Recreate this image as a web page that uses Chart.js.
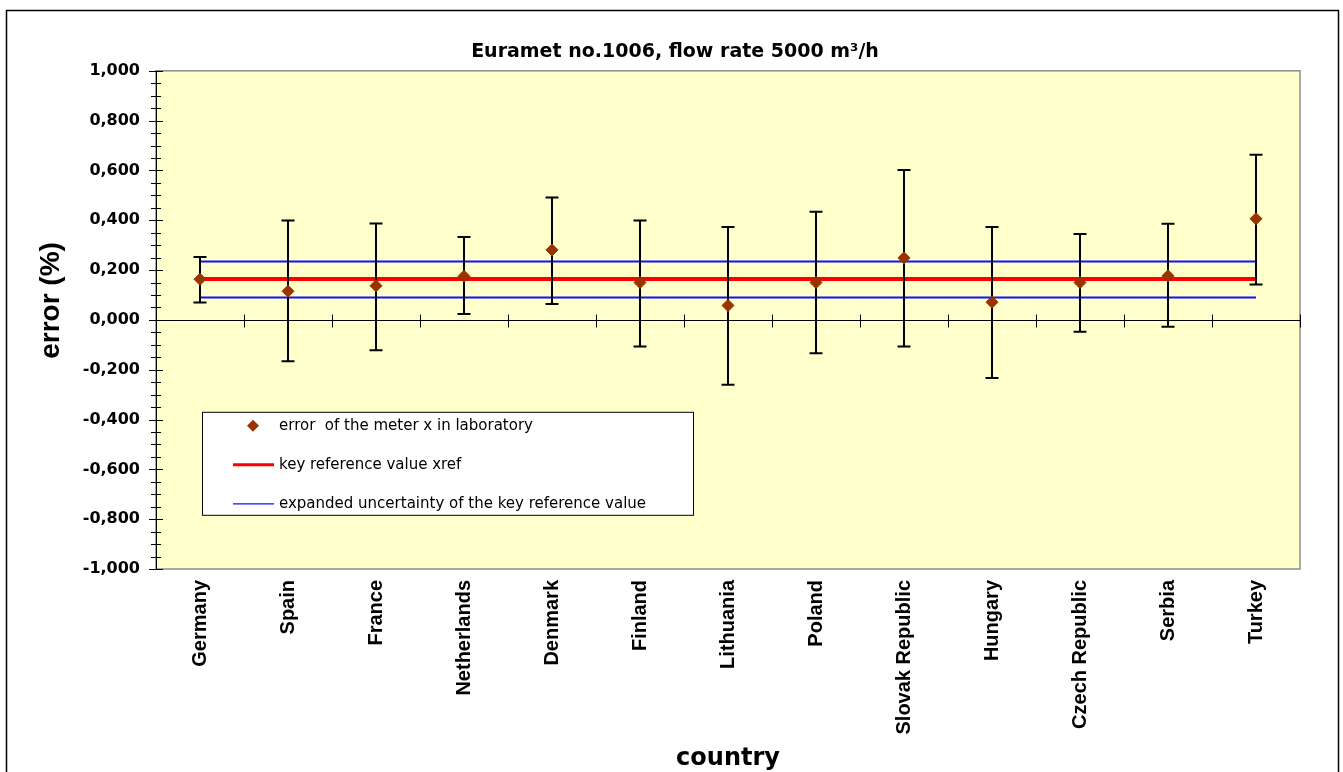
<!DOCTYPE html>
<html>
<head>
<meta charset="utf-8">
<title>Euramet no.1006</title>
<script src="https://cdn.jsdelivr.net/npm/chart.js@4/dist/chart.umd.min.js"></script>
<style>
  body { margin: 0; background: #fff; overflow: hidden; }
  #wrap { width: 1343px; height: 772px; position: relative; }
</style>
</head>
<body>
<div id="wrap"><canvas id="kcChart"></canvas></div>
<script>
// data
const countries = ["Germany", "Spain", "France", "Netherlands", "Denmark", "Finland", "Lithuania",
  "Poland", "Slovak Republic", "Hungary", "Czech Republic", "Serbia", "Turkey"];
const labError = [0.163, 0.115, 0.137, 0.175, 0.281, 0.150, 0.058, 0.150, 0.249, 0.071, 0.150, 0.177, 0.406];
const errUpper = [0.253, 0.399, 0.387, 0.333, 0.491, 0.399, 0.373, 0.434, 0.602, 0.373, 0.345, 0.386, 0.663];
const errLower = [0.070, -0.166, -0.122, 0.024, 0.064, -0.107, -0.260, -0.134, -0.107, -0.233, -0.048, -0.028, 0.142];
const xref = 0.164;
const xrefUpper = 0.234;
const xrefLower = 0.090;

const ARIAL = '"Liberation Sans", Arial, sans-serif';
const WIDE = '"DejaVu Sans", Verdana, sans-serif';

Chart.defaults.color = "#000";
Chart.defaults.font.family = ARIAL;

// yellow plot area, frame, axis lines crossing ticks
const plotFrame = {
  id: "plotFrame",
  beforeDraw(chart) {
    const { ctx, chartArea: ca } = chart;
    ctx.save();
    ctx.fillStyle = "#FFFFCC";
    ctx.fillRect(ca.left, ca.top, ca.right - ca.left, ca.bottom - ca.top);
    ctx.restore();
  },
  beforeDatasetsDraw(chart) {
    const { ctx, chartArea: ca, scales } = chart;
    const x = scales.x, y = scales.y;
    ctx.save();
    ctx.strokeStyle = "#8c8c8c";
    ctx.lineWidth = 1.5;
    ctx.strokeRect(ca.left, ca.top, ca.right - ca.left, ca.bottom - ca.top);

    ctx.strokeStyle = "#000";
    ctx.lineWidth = 1;
    ctx.beginPath();
    ctx.moveTo(ca.left + 0.5, ca.top);
    ctx.lineTo(ca.left + 0.5, ca.bottom);
    y.ticks.forEach(function (t) {
      const py = Math.round(y.getPixelForValue(t.value)) + 0.5;
      const major = t.label !== "";
      ctx.moveTo(ca.left - (major ? 7 : 5), py);
      ctx.lineTo(ca.left + (major ? 7 : 5), py);
    });
    // x axis crosses at 0, tick marks between categories
    const y0 = Math.round(y.getPixelForValue(0)) + 0.5;
    ctx.moveTo(ca.left, y0);
    ctx.lineTo(ca.right, y0);
    countries.forEach(function (c, i) {
      const px = Math.round(x.getPixelForValue(i + 0.5)) + 0.5;
      ctx.moveTo(px, y0 - 6);
      ctx.lineTo(px, y0 + 7);
    });
    ctx.stroke();
    ctx.restore();
  }
};

// error bars, drawn just before the diamonds
const errorBars = {
  id: "errorBars",
  beforeDatasetDraw(chart, args) {
    if (args.index !== 0) return;
    const { ctx, scales } = chart;
    ctx.save();
    ctx.strokeStyle = "#000";
    ctx.lineWidth = 2;
    ctx.beginPath();
    countries.forEach(function (c, i) {
      const px = scales.x.getPixelForValue(i);
      const top = scales.y.getPixelForValue(errUpper[i]);
      const bot = scales.y.getPixelForValue(errLower[i]);
      ctx.moveTo(px, top);
      ctx.lineTo(px, bot);
      ctx.moveTo(px - 6.5, top);
      ctx.lineTo(px + 6.5, top);
      ctx.moveTo(px - 6.5, bot);
      ctx.lineTo(px + 6.5, bot);
    });
    ctx.stroke();
    ctx.restore();
  }
};

// legend box inside the plot, plus outer chart border
const boxLegend = {
  id: "boxLegend",
  afterDraw(chart) {
    const { ctx, chartArea: ca } = chart;
    const left = ca.left + 46, top = ca.top + 341;
    ctx.save();
    ctx.fillStyle = "#fff";
    ctx.fillRect(left, top, 491, 103);
    ctx.strokeStyle = "#000";
    ctx.lineWidth = 1;
    ctx.strokeRect(left + 0.5, top + 0.5, 491, 103);

    ctx.font = "15px " + WIDE;
    ctx.textBaseline = "middle";
    let row = 0;
    chart.data.datasets.forEach(function (ds) {
      if (ds.hideInLegend) return;
      const ry = top + 14 + row * 39;
      if (ds.showLine === false) {
        ctx.fillStyle = ds.backgroundColor;
        ctx.beginPath();
        ctx.moveTo(left + 51, ry - 6);
        ctx.lineTo(left + 57, ry);
        ctx.lineTo(left + 51, ry + 6);
        ctx.lineTo(left + 45, ry);
        ctx.closePath();
        ctx.fill();
      } else {
        ctx.strokeStyle = ds.borderColor;
        ctx.lineWidth = ds.borderWidth > 2 ? 3 : 1.2;
        ctx.beginPath();
        ctx.moveTo(left + 31, ry);
        ctx.lineTo(left + 72, ry);
        ctx.stroke();
      }
      ctx.fillStyle = "#000";
      ctx.fillText(ds.label, left + 77, ry);
      row++;
    });

    ctx.strokeStyle = "#000";
    ctx.lineWidth = 1.5;
    ctx.strokeRect(6.5, 10.5, 1332, 800);
    ctx.restore();
  }
};

const flat = (v) => countries.map(() => v);

new Chart(document.getElementById("kcChart"), {
  type: "line",
  data: {
    labels: countries,
    datasets: [
      {
        label: "error  of the meter x in laboratory",
        data: labError,
        showLine: false,
        pointStyle: "rectRot",
        pointRadius: 6,
        pointBorderWidth: 1,
        backgroundColor: "#993300",
        borderColor: "#993300",
      },
      {
        label: "key reference value xref",
        data: flat(xref),
        borderColor: "#FF0000",
        borderWidth: 4,
        pointRadius: 0,
      },
      {
        label: "expanded uncertainty of the key reference value",
        data: flat(xrefUpper),
        borderColor: "#1010FF",
        borderWidth: 2,
        pointRadius: 0,
      },
      {
        label: "expanded uncertainty (lower)",
        data: flat(xrefLower),
        borderColor: "#1010FF",
        borderWidth: 2,
        pointRadius: 0,
        hideInLegend: true,
      },
    ],
  },
  options: {
    responsive: true,
    maintainAspectRatio: false,
    animation: false,
    layout: { padding: { left: 7, right: 0, top: 0, bottom: 0 } },
    plugins: {
      legend: { display: false },
      tooltip: { enabled: false },
      title: {
        display: true,
        text: "Euramet no.1006, flow rate 5000 m³/h",
        font: { family: WIDE, size: 19, weight: "bold" },
        padding: { top: 41, bottom: 7 },
      },
    },
    scales: {
      x: {
        type: "category",
        offset: true,
        grid: { display: false, drawTicks: false },
        border: { display: false },
        ticks: {
          minRotation: 90,
          maxRotation: 90,
          padding: 11,
          autoSkip: false,
          font: { family: ARIAL, size: 20, weight: "bold" },
        },
        title: {
          display: true,
          text: "country",
          font: { family: WIDE, size: 24, weight: "bold", lineHeight: 1 },
          padding: { top: 0, bottom: 1 },
        },
        afterFit(scale) { scale.height = 203; },
      },
      y: {
        min: -1,
        max: 1,
        grid: { display: false, drawTicks: false },
        border: { display: false },
        ticks: {
          stepSize: 0.05,
          autoSkip: false,
          padding: 16,
          font: { family: WIDE, size: 16, weight: "bold" },
          callback: function (v) {
            const k = Math.round(v * 5);
            if (Math.abs(v * 5 - k) > 1e-6) return "";
            return (k / 5).toFixed(3).replace(".", ",");
          },
        },
        title: {
          display: true,
          text: "     error (%)",
          font: { family: ARIAL, size: 28, weight: "bold", lineHeight: 1 },
          padding: { top: 30, bottom: 0 },
        },
        afterFit(scale) { scale.width = 149; },
      },
      yRight: {
        position: "right",
        display: true,
        grid: { display: false, drawTicks: false },
        border: { display: false },
        ticks: { display: false },
        afterFit(scale) { scale.width = 43; },
      },
    },
  },
  plugins: [plotFrame, errorBars, boxLegend],
});
</script>
</body>
</html>
